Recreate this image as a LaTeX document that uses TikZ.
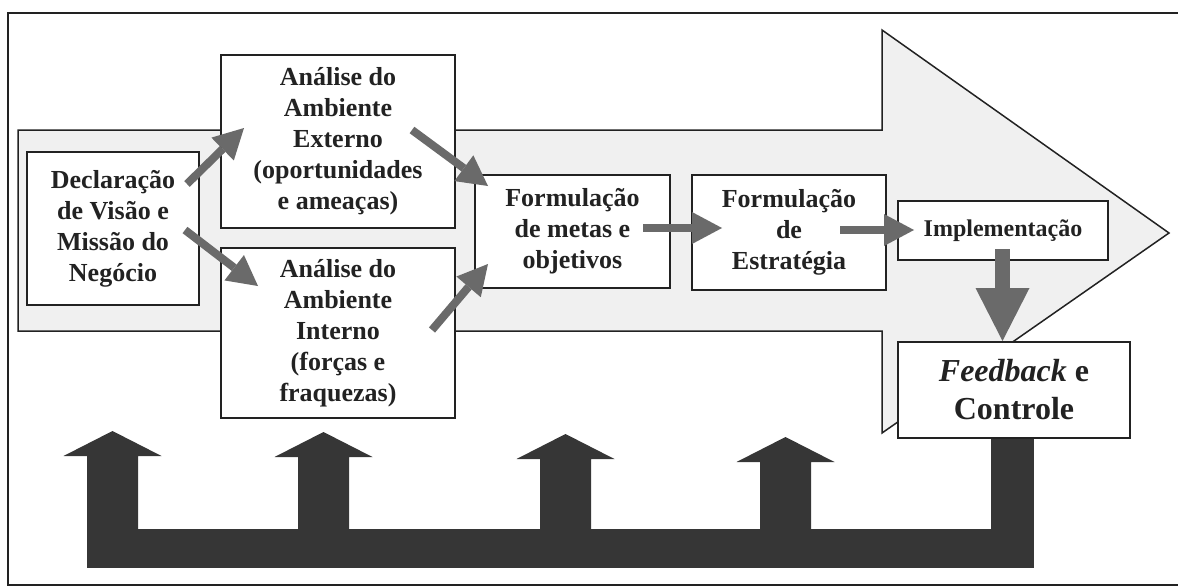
\documentclass[tikz,border=0pt]{standalone}
\usepackage{fontspec}
\setmainfont{Liberation Serif}
\usetikzlibrary{arrows.meta}
\definecolor{ink}{HTML}{222222}
\definecolor{arrgray}{HTML}{6A6A6A}
\definecolor{loopgray}{HTML}{363636}
\definecolor{bodygray}{HTML}{F0F0F0}
\begin{document}
\begin{tikzpicture}[x=1pt,y=-1pt,
  box/.style={draw=ink, line width=1.8pt, fill=white, align=center, inner sep=0pt, text=ink,
    font=\bfseries\fontsize{26}{31}\selectfont},
  fat/.style={draw=arrgray, line width=8pt, -{Triangle[width=32pt,length=30pt,line width=0pt]}},
  fatv/.style={draw=arrgray, line width=15pt, -{Triangle[width=54pt,length=53pt,line width=0pt]}},
  loopfill/.style={fill=loopgray},
  outline/.style={draw=ink, line width=1.6pt}
]
\useasboundingbox (0,0) rectangle (1178,586);
\clip (0,0) rectangle (1178,586);
% outer frame
\draw[outline] (1190,13) -- (8,13) -- (8,585) -- (1190,585);
% big process arrow
\draw[outline, line width=1.5pt, fill=bodygray] (18,130) -- (882,130) -- (882,30) -- (1169,233)
  -- (882,433) -- (882,331) -- (18,331) -- cycle;
% boxes
\node[box, minimum width=172pt, minimum height=153pt] (decl) at (113,228.5)
  {Declaração\\de Visão e\\Missão do\\Negócio};
\node[box, minimum width=234pt, minimum height=173pt] (ext) at (338,141.5)
  {Análise do\\Ambiente\\Externo\\(oportunidades\\e ameaças)};
\node[box, minimum width=234pt, minimum height=170pt] (int) at (338,333)
  {Análise do\\Ambiente\\Interno\\(forças e\\fraquezas)};
\node[box, minimum width=195pt, minimum height=113pt] (form) at (572.5,231.5)
  {Formulação\\de metas e\\objetivos};
\node[box, minimum width=194pt, minimum height=115pt] (strat) at (789,232.5)
  {Formulação\\de\\Estratégia};
\node[box, minimum width=210pt, minimum height=59pt, font=\bfseries\fontsize{24}{29}\selectfont] (impl) at (1003,230.5)
  {Implementação};
% feedback loop (bottom)
\fill[loopfill] (87,529) rectangle (1034,568);
\fill[loopfill] (991,436) rectangle (1034,568);
\foreach \cx/\ty in {112.5/431, 323.5/432, 565.5/434, 785.5/437}{
  \fill[loopfill] (\cx-25.5,530) -- (\cx-25.5,\ty+25) -- (\cx-49,\ty+25) -- (\cx,\ty)
    -- (\cx+49,\ty+25) -- (\cx+25.5,\ty+25) -- (\cx+25.5,530) -- cycle;
}
\node[box, minimum width=232pt, minimum height=96pt, font=\bfseries\fontsize{32}{38}\selectfont] (feed) at (1014,390)
  {\textit{Feedback} e\\Controle};
% small arrows
\coordinate (a1s) at (187,184); \coordinate (a1e) at (244,128);
\coordinate (a2s) at (185,230); \coordinate (a2e) at (258,286);
\coordinate (a3s) at (412,130); \coordinate (a3e) at (488,186);
\coordinate (a4s) at (432,330); \coordinate (a4e) at (488,264);
\coordinate (a5s) at (643,228); \coordinate (a5e) at (722,228);
\coordinate (a6s) at (840,230); \coordinate (a6e) at (914,230);
\coordinate (a7s) at (1002.5,249); \coordinate (a7e) at (1002.5,341);
\draw[fat] (a1s) -- (a1e);
\draw[fat] (a2s) -- (a2e);
\draw[fat] (a3s) -- (a3e);
\draw[fat] (a4s) -- (a4e);
\draw[fat] (a5s) -- (a5e);
\draw[fat] (a6s) -- (a6e);
\draw[fatv] (a7s) -- (a7e);
\end{tikzpicture}
\end{document}
